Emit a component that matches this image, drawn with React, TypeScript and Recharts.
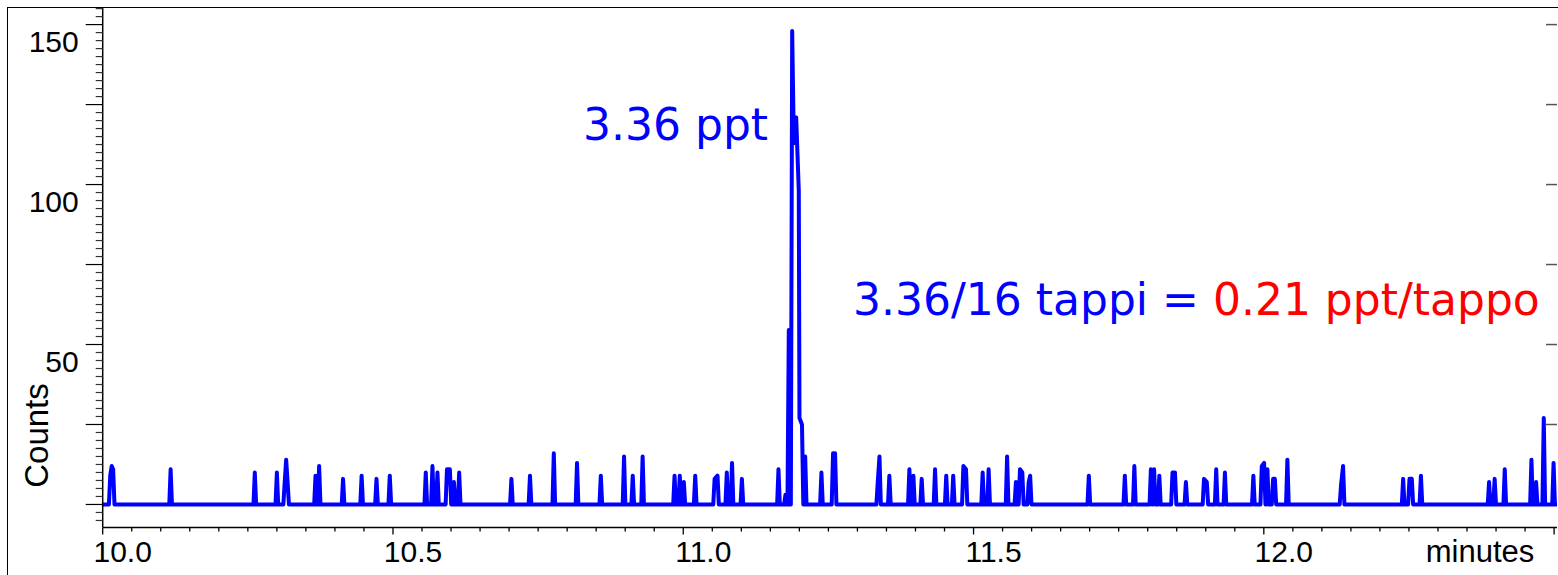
import React from "react";
import { LineChart, Line, XAxis, YAxis, Label } from "recharts";

// retention time (minutes) of every non-zero sample
const spikeTimes = [
  10.013, 10.0155, 10.018, 10.117, 10.262, 10.3, 10.3135, 10.316, 10.3185,
  10.3666, 10.3728, 10.414, 10.446, 10.4716, 10.4945, 10.5565, 10.568, 10.5766,
  10.593, 10.598, 10.605, 10.614, 10.704, 10.736, 10.777, 10.817, 10.858,
  10.898, 10.913, 10.93, 10.985, 10.994, 11.001, 11.0206, 11.054, 11.059,
  11.075, 11.084, 11.101, 11.164, 11.176, 11.1818, 11.1876, 11.1905, 11.1945,
  11.199, 11.2002, 11.2045, 11.21, 11.238, 11.258, 11.2615, 11.335, 11.338,
  11.355, 11.3895, 11.3964, 11.4107, 11.4337, 11.453, 11.465, 11.4825, 11.487,
  11.5157, 11.526, 11.5578, 11.573, 11.58, 11.584, 11.595, 11.5975, 11.6986,
  11.7606, 11.777, 11.8055, 11.811, 11.82, 11.8427, 11.847, 11.8658, 11.897,
  11.9018, 11.918, 11.933, 11.982, 11.9965, 12.0005, 12.0062, 12.016, 12.019,
  12.0406, 12.133, 12.1365, 12.24, 12.2509, 12.2549, 12.2706, 12.388, 12.3976,
  12.415, 12.461, 12.469, 12.4822, 12.4991,
];

// counts at those samples
const spikeCounts = [
  9, 12, 11, 11, 10, 10, 7, 14, 7,
  9, 12, 8, 9, 8, 9, 10, 12, 10,
  11, 11, 7, 10, 8, 9, 16, 13, 9,
  15, 9, 15, 9, 9, 7, 9, 8, 9,
  10, 13, 8, 11, 3, 54.5, 148, 113, 121,
  98, 27, 25, 15, 10, 16, 16, 7, 15,
  9, 11, 9, 8, 11, 9, 9, 12, 11,
  10, 11, 15, 7, 11, 10, 7, 9, 9,
  9, 12, 11, 11, 9, 10, 10, 7, 8,
  7, 11, 10, 9, 12, 13, 11, 8, 8,
  14, 6, 12, 8, 8, 8, 9, 7, 8,
  11, 14, 7, 27, 13,
];

const xLabels = ["10.0", "10.5", "11.0", "11.5", "12.0"];
const yLabels = [50, 100, 150];
const rightTicks = [25, 50, 75, 100, 125, 150];

const START = 10.0;
const END = 12.505;
const HALF = 0.0023; // baseline is reached this far either side of a lone sample

const buildSeries = () => {
  const pts: { t: number; c: number }[] = [{ t: START, c: 0 }];
  let prev: number | null = null;
  spikeTimes.forEach((t, i) => {
    if (prev === null || t - prev > 2 * HALF + 0.0005) {
      if (prev !== null) pts.push({ t: prev + HALF, c: 0 });
      pts.push({ t: t - HALF, c: 0 });
    }
    pts.push({ t, c: spikeCounts[i] });
    prev = t;
  });
  if (prev !== null) pts.push({ t: prev + HALF, c: 0 });
  pts.push({ t: END, c: 0 });
  return pts;
};

const data = buildSeries();

const xTicks = Array.from({ length: 51 }, (_, i) => +(10 + i * 0.05).toFixed(2));
const yTicks = Array.from({ length: 65 }, (_, i) => -5 + i * 2.5);

const FONT = "'Liberation Sans', Arial, sans-serif";

const XTick = ({ x, y, payload }: any) => {
  const idx = Math.round((payload.value - 10) / 0.05);
  const major = idx % 10 === 0;
  const label = major ? xLabels[idx / 10] : undefined;
  return (
    <g>
      <line x1={x} x2={x} y1={y} y2={y + (major ? 7 : 4)} stroke="#000" strokeWidth={1.3} />
      {label && (
        <text x={x + 20} y={y + 34} textAnchor="middle" fontSize={30} fontFamily={FONT} fill="#000">
          {label}
        </text>
      )}
    </g>
  );
};

const YTick = ({ x, y, payload }: any) => {
  const v = payload.value;
  const long = v % 25 === 0;
  const label = yLabels.includes(v) ? String(v) : null;
  return (
    <g>
      <line x1={x - (long ? 17 : 7)} x2={x} y1={y} y2={y} stroke={long ? "#000" : "#333"} strokeWidth={1.2} />
      {label && (
        <text x={x - 24} y={y + 27} textAnchor="end" fontSize={30} fontFamily={FONT} fill="#000">
          {label}
        </text>
      )}
    </g>
  );
};

const RightTick = ({ x, y }: any) => (
  <line x1={x - 11} x2={x} y1={y} y2={y} stroke="#555" strokeWidth={1.5} />
);

const MinutesLabel = ({ viewBox }: any) => (
  <text
    x={viewBox.x + viewBox.width - 77}
    y={viewBox.y + 34}
    textAnchor="middle"
    fontSize={31}
    fontFamily={FONT}
    fill="#000"
  >
    minutes
  </text>
);

const CountsLabel = ({ viewBox }: any) => {
  const cx = viewBox.x + 48;
  const cy = viewBox.y + viewBox.height - 92;
  return (
    <text
      x={cx}
      y={cy}
      transform={`rotate(-90, ${cx}, ${cy})`}
      textAnchor="middle"
      fontSize={33}
      fontFamily={FONT}
      fill="#000"
    >
      Counts
    </text>
  );
};

const note: React.CSSProperties = {
  position: "absolute",
  fontFamily: "'Comic Sans MS', 'DejaVu Sans', sans-serif",
  fontSize: 44,
  lineHeight: "44px",
  whiteSpace: "nowrap",
  color: "#0000ff",
};

export default function App() {
  return (
    <div
      style={{
        position: "absolute",
        left: 0,
        top: 0,
        width: 1558,
        height: 575,
        overflow: "hidden",
        background: "#fff",
      }}
    >
      <div
        style={{
          position: "absolute",
          left: 7,
          top: 7,
          width: 1700,
          height: 700,
          borderTop: "1.5px solid #000",
          borderLeft: "1.5px solid #000",
        }}
      />
      <LineChart width={1558} height={575} data={data} margin={{ top: 7, right: 0, left: 0, bottom: 0 }}>
        <XAxis
          dataKey="t"
          type="number"
          domain={[START, END]}
          allowDataOverflow
          ticks={xTicks}
          interval={0}
          tick={<XTick />}
          tickLine={false}
          tickSize={0}
          tickMargin={0}
          height={47.5}
          axisLine={{ stroke: "#000", strokeWidth: 1.5 }}
        >
          <Label content={<MinutesLabel />} />
        </XAxis>
        <YAxis
          yAxisId="left"
          type="number"
          domain={[-7.2, 155.5]}
          allowDataOverflow
          ticks={yTicks}
          interval={0}
          tick={<YTick />}
          tickLine={false}
          tickSize={0}
          tickMargin={0}
          width={102.7}
          axisLine={{ stroke: "#000", strokeWidth: 1.5 }}
        >
          <Label content={<CountsLabel />} />
        </YAxis>
        <YAxis
          yAxisId="right"
          orientation="right"
          type="number"
          domain={[-7.2, 155.5]}
          allowDataOverflow
          ticks={rightTicks}
          interval={0}
          tick={<RightTick />}
          tickLine={false}
          tickSize={0}
          tickMargin={0}
          width={1}
          axisLine={false}
        />
        <Line
          yAxisId="left"
          type="linear"
          dataKey="c"
          stroke="#0000ff"
          strokeWidth={4}
          strokeLinejoin="round"
          strokeLinecap="round"
          dot={false}
          activeDot={false}
          isAnimationActive={false}
        />
      </LineChart>
      <div style={{ ...note, left: 583, top: 103 }}>3.36 ppt</div>
      <div style={{ ...note, left: 853, top: 278 }}>
        3.36/16 tappi = <span style={{ color: "#ff0000" }}>0.21 ppt/tappo</span>
      </div>
    </div>
  );
}
